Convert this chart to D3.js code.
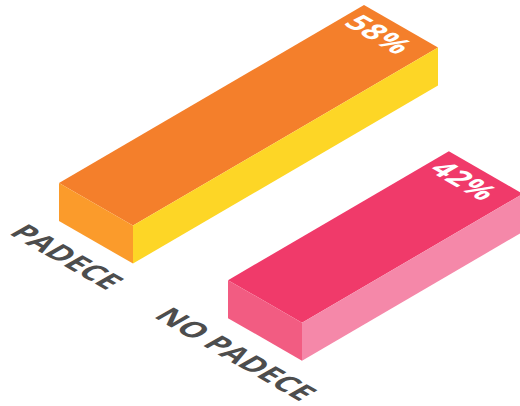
<!DOCTYPE html>
<html>
<head>
<meta charset="utf-8">
<script src="https://d3js.org/d3.v7.min.js"></script>
<style>
  html, body { margin: 0; padding: 0; background: #fff; }
  svg { display: block; }
</style>
</head>
<body>
<div id="vis"></div>
<script>
const FRAME_WIDTH = 520;
const FRAME_HEIGHT = 406;

const categories = ["PADECE", "NO PADECE"];
const values = [58, 42];
const valueLabels = ["58%", "42%"];
const topColors = ["#f47f2b", "#f03a6a"];
const leftColors = ["#fb9b2b", "#f25c82"];
const rightColors = ["#fdd626", "#f588a9"];

// isometric axes: u runs up to the right, v runs down to the right
const ORIGIN = {x: 59, y: 183};
const U_SLOPE = -178 / 305;
const V_SLOPE = 0.575;
const DEPTH = 38;

const U_SCALE = d3.scaleLinear().domain([0, 58]).range([0, 305]);
const V_SCALE = d3.scaleBand()
  .domain(categories)
  .range([0, 243])
  .paddingInner(95 / 169)
  .paddingOuter(0);

function project(u, v, h) {
  return [ORIGIN.x + u + v, ORIGIN.y + u * U_SLOPE + v * V_SLOPE + (h || 0)];
}

const FRAME = d3.select("#vis")
  .append("svg")
    .attr("width", FRAME_WIDTH)
    .attr("height", FRAME_HEIGHT);

const bars = FRAME.selectAll(".bar")
  .data(categories)
  .enter()
  .append("g")
    .attr("class", "bar");

// top face
bars.append("polygon")
  .attr("fill", (d, i) => topColors[i])
  .attr("points", (d, i) => {
    const u = U_SCALE(values[i]), v0 = V_SCALE(d), v1 = v0 + V_SCALE.bandwidth();
    return [project(0, v0), project(0, v1), project(u, v1), project(u, v0)].join(" ");
  });

// short end face
bars.append("polygon")
  .attr("fill", (d, i) => leftColors[i])
  .attr("points", (d) => {
    const v0 = V_SCALE(d), v1 = v0 + V_SCALE.bandwidth();
    return [project(0, v0), project(0, v1), project(0, v1, DEPTH), project(0, v0, DEPTH)].join(" ");
  });

// long side face
bars.append("polygon")
  .attr("fill", (d, i) => rightColors[i])
  .attr("points", (d, i) => {
    const u = U_SCALE(values[i]), v1 = V_SCALE(d) + V_SCALE.bandwidth();
    return [project(0, v1), project(u, v1), project(u, v1, DEPTH), project(0, v1, DEPTH)].join(" ");
  });

// texts lie flat on the isometric plane
function isoMatrix(p) {
  return "matrix(0.866,0.5,-0.866,0.5," + p[0] + "," + p[1] + ")";
}

bars.append("text")
  .attr("transform", (d) => isoMatrix(project(0, V_SCALE(d) - 1.5, 80)))
  .attr("text-anchor", "middle")
  .attr("font-family", "'Open Sans', sans-serif")
  .attr("font-weight", 700)
  .attr("font-size", 30)
  .attr("fill", "#4d4d4d")
  .text((d) => d);

bars.append("text")
  .attr("transform", (d, i) => isoMatrix(project(U_SCALE(values[i]) - 27, V_SCALE(d) + 33, 0)))
  .attr("text-anchor", "middle")
  .attr("font-family", "'Open Sans', sans-serif")
  .attr("font-weight", 700)
  .attr("font-size", 30)
  .attr("letter-spacing", 0.5)
  .attr("fill", "#fff")
  .text((d, i) => valueLabels[i]);
</script>
</body>
</html>
